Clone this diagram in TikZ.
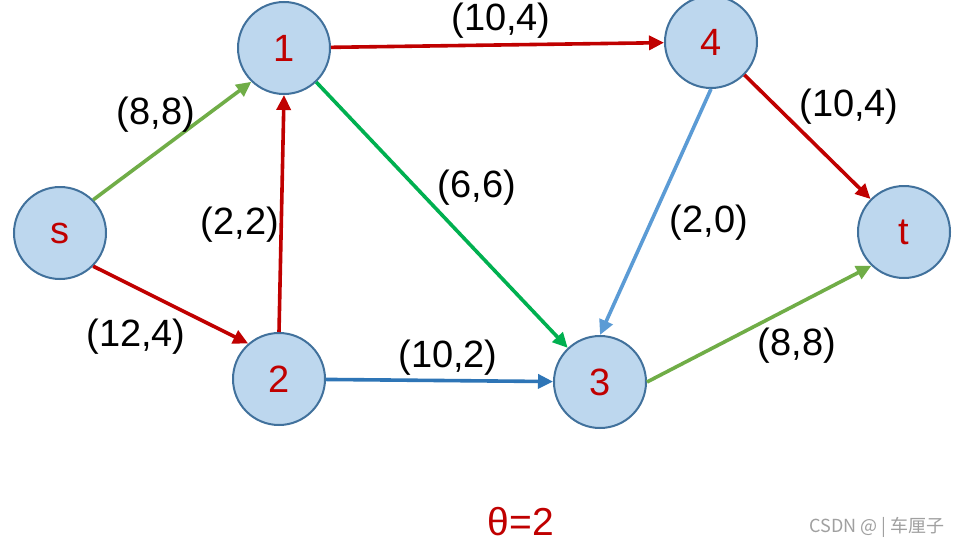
\documentclass[tikz,border=0pt]{standalone}
\usepackage{fontspec}
\setmainfont{Liberation Sans}
\newfontfamily\cjkfont{Noto Sans CJK SC}
\usetikzlibrary{arrows.meta}
\definecolor{nodefill}{HTML}{BDD7EE}
\definecolor{nodeborder}{HTML}{41719C}
\definecolor{darkred}{HTML}{C00000}
\definecolor{lgreen}{HTML}{70AD47}
\definecolor{dgreen}{HTML}{00B050}
\definecolor{dblue}{HTML}{2E75B6}
\definecolor{lblue}{HTML}{5B9BD5}
\definecolor{wmgrey}{HTML}{A0A0A0}
\tikzset{
  vertex/.style={circle, draw=nodeborder, line width=2pt, fill=nodefill, minimum size=92pt, inner sep=0pt, text=darkred, font=\fontsize{38}{38}\selectfont},
  flow/.style={line width=3.6pt, -{Triangle[length=15pt,width=14pt]}},
  elabel/.style={inner sep=0pt, font=\fontsize{38}{38}\selectfont, text=black},
}
\begin{document}
\begin{tikzpicture}[x=1pt,y=-1pt]
\useasboundingbox (0,0) rectangle (961,546);
\fill[white] (0,0) rectangle (961,546);
\node[vertex] (s) at (60,233) {s};
\node[vertex] (n1) at (284,48) {1};
\node[vertex] (n4) at (711,42) {4};
\node[vertex] (t) at (904,232) {t};
\node[vertex] (n2) at (279,379) {2};
\node[vertex] (n3) at (600,382) {3};

\draw[flow, lgreen] (s.45) -- (n1.226);
\draw[flow, darkred] (s.-45) -- (n2.131);
\draw[flow, darkred] (n2.north) -- (n1.south);
\draw[flow, darkred] (n1) -- (n4);
\draw[flow, dgreen] (n1) -- (n3);
\draw[flow, dblue] (n2) -- (n3);
\draw[flow, lblue] (n4.south) -- (n3.north);
\draw[flow, darkred] (n4) -- (t);
\draw[flow, lgreen] (n3.east) -- (t.226);

\node[elabel] (l14) at (501,21) {(10,4)};
\node[elabel] (ls1) at (156,115) {(8,8)};
\node[elabel] (l21) at (240,225) {(2,2)};
\node[elabel] (ls2) at (136,337) {(12,4)};
\node[elabel] (l23) at (448,358) {(10,2)};
\node[elabel] (l13) at (477,188) {(6,6)};
\node[elabel] (l43) at (709,223) {(2,0)};
\node[elabel] (l4t) at (849,107) {(10,4)};
\node[elabel] (l3t) at (797,346) {(8,8)};

\node[inner sep=0pt, text=darkred, font=\fontsize{39}{39}\selectfont] (theta) at (521,522) {θ=2};
\node[inner sep=0pt, text=wmgrey, font=\cjkfont\fontsize{18}{18}\selectfont] (wm) at (877,527) {CSDN @ | 车厘子};
\end{tikzpicture}
\end{document}
